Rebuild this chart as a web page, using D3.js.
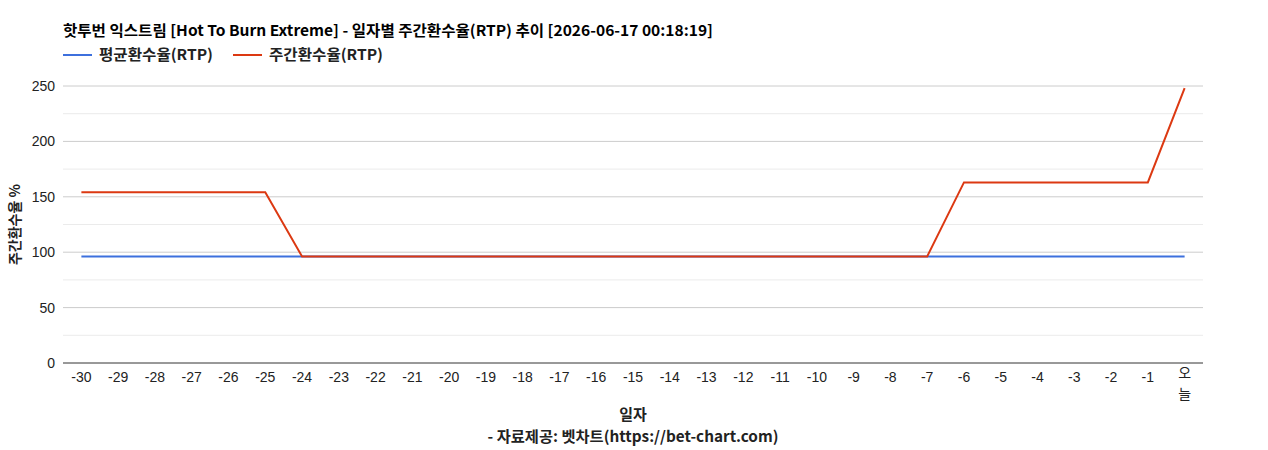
<!DOCTYPE html>
<html>
<head>
<meta charset="utf-8">
<script src="https://cdn.jsdelivr.net/npm/d3@7"></script>
<style>
  body { margin: 0; background: #fff; }
  svg { font-family: "Liberation Sans", Arial, "Noto Sans CJK KR", sans-serif; }
  .bold { font-family: "Noto Sans CJK KR", "Liberation Sans", sans-serif; font-weight: bold; }
</style>
</head>
<body>
<svg id="chart"></svg>
<script>
const days = ["-30","-29","-28","-27","-26","-25","-24","-23","-22","-21","-20","-19","-18","-17","-16","-15","-14","-13","-12","-11","-10","-9","-8","-7","-6","-5","-4","-3","-2","-1","오늘"];
const avgRtp = [96.2,96.2,96.2,96.2,96.2,96.2,96.2,96.2,96.2,96.2,96.2,96.2,96.2,96.2,96.2,96.2,96.2,96.2,96.2,96.2,96.2,96.2,96.2,96.2,96.2,96.2,96.2,96.2,96.2,96.2,96.2];
const weekRtp = [154,154,154,154,154,154,96.2,96.2,96.2,96.2,96.2,96.2,96.2,96.2,96.2,96.2,96.2,96.2,96.2,96.2,96.2,96.2,96.2,96.2,163,163,163,163,163,163,248];
const yTicks = [0,50,100,150,200,250];
const seriesNames = ["평균환수율(RTP)", "주간환수율(RTP)"];
const colors = ["#3d70dd", "#dc3912"];

const width = 1268, height = 450;
const plotL = 63, plotR = 1203, plotT = 86, plotB = 363;

const svg = d3.select("#chart").attr("width", width).attr("height", height);

const x = d3.scaleBand().domain(days).range([plotL, plotR]);
const y = d3.scaleLinear().domain([0, 250]).range([plotB, plotT]);

// gridlines: minor then major
const minor = d3.range(25, 250, 50);
svg.append("g").selectAll("line").data(minor).enter().append("line")
  .attr("x1", plotL).attr("x2", plotR)
  .attr("y1", d => y(d)).attr("y2", d => y(d))
  .attr("stroke", "#ebebeb");
svg.append("g").selectAll("line").data(yTicks.slice(1)).enter().append("line")
  .attr("x1", plotL).attr("x2", plotR)
  .attr("y1", d => y(d)).attr("y2", d => y(d))
  .attr("stroke", "#cccccc");

// y tick labels
svg.append("g").selectAll("text").data(yTicks).enter().append("text")
  .attr("x", plotL - 8).attr("y", d => y(d) + 5)
  .attr("text-anchor", "end")
  .attr("font-size", 14).attr("fill", "#222")
  .text(d => d);

// lines
const line = d3.line().x((d, i) => x(days[i]) + x.bandwidth() / 2).y(d => y(d));
[avgRtp, weekRtp].forEach((s, i) => {
  svg.append("path").datum(s)
    .attr("fill", "none")
    .attr("stroke", colors[i])
    .attr("stroke-width", 2)
    .attr("d", line);
});

// baseline
svg.append("line").attr("x1", plotL).attr("x2", plotR)
  .attr("y1", plotB).attr("y2", plotB)
  .attr("stroke", "#333").attr("stroke-width", 1);

// x labels
const xl = svg.append("g").selectAll("text").data(days).enter().append("text")
  .attr("x", d => x(d) + x.bandwidth() / 2)
  .attr("y", plotB + 19)
  .attr("text-anchor", "middle")
  .attr("font-size", 14).attr("fill", "#222");
xl.each(function (d) {
  const t = d3.select(this);
  if (d === "오늘") {
    t.attr("y", plotB + 15);
    t.append("tspan").attr("x", x(d) + x.bandwidth() / 2).attr("dy", 0).text("오");
    t.append("tspan").attr("x", x(d) + x.bandwidth() / 2).attr("dy", 21).text("늘");
  } else {
    t.text(d);
  }
});

// title
svg.append("text").attr("class", "bold")
  .attr("x", plotL).attr("y", 36)
  .attr("font-size", 15).attr("fill", "#000")
  .attr("textLength", 650).attr("lengthAdjust", "spacingAndGlyphs")
  .text("핫투번 익스트림 [Hot To Burn Extreme] - 일자별 주간환수율(RTP) 추이 [2026-06-17 00:18:19]");

// legend
const legX = [63, 233];
seriesNames.forEach((n, i) => {
  svg.append("line").attr("x1", legX[i]).attr("x2", legX[i] + 29)
    .attr("y1", 55).attr("y2", 55)
    .attr("stroke", colors[i]).attr("stroke-width", 2);
  svg.append("text").attr("class", "bold")
    .attr("x", legX[i] + 36).attr("y", 60)
    .attr("font-size", 15).attr("fill", "#222")
    .attr("textLength", 114).attr("lengthAdjust", "spacingAndGlyphs")
    .text(n);
});

// axis titles
svg.append("text").attr("class", "bold")
  .attr("transform", `translate(20,${(plotT + plotB) / 2}) rotate(-90)`)
  .attr("text-anchor", "middle")
  .attr("font-size", 14).attr("fill", "#222")
  .text("주간환수율 %");

svg.append("text").attr("class", "bold")
  .attr("x", (plotL + plotR) / 2).attr("y", 420)
  .attr("text-anchor", "middle")
  .attr("font-size", 15).attr("fill", "#222")
  .text("일자");

svg.append("text").attr("class", "bold")
  .attr("x", (plotL + plotR) / 2).attr("y", 442)
  .attr("text-anchor", "middle")
  .attr("font-size", 15).attr("fill", "#222")
  .attr("textLength", 291).attr("lengthAdjust", "spacingAndGlyphs")
  .text("- 자료제공: 벳차트(https://bet-chart.com)");
</script>
</body>
</html>
